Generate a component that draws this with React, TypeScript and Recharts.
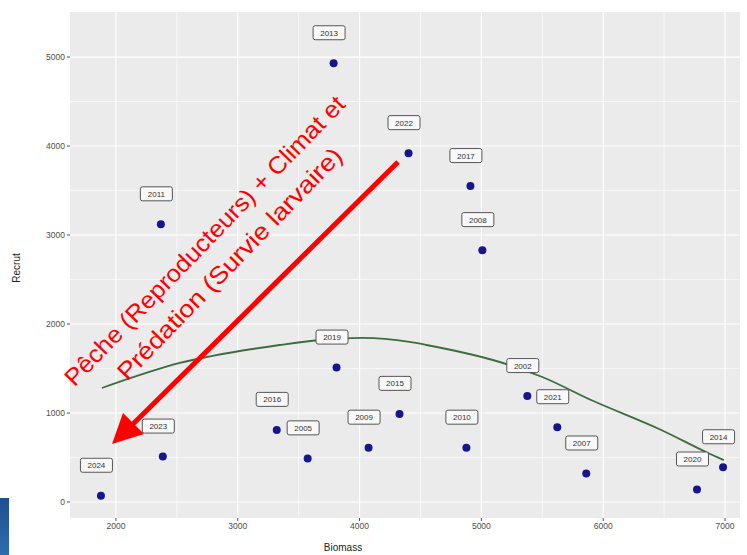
import React from "react";
import {
  ComposedChart,
  Scatter,
  Line,
  XAxis,
  YAxis,
  ReferenceLine,
  LabelList,
} from "recharts";

// Stock-recruitment observations: year, spawning biomass, recruitment
const years = [2024, 2023, 2011, 2013, 2022, 2017, 2008, 2019, 2016, 2005, 2009, 2015, 2010, 2002, 2021, 2007, 2020, 2014];
const biomass = [1877, 2385, 2369, 3787, 4402, 4910, 5008, 3811, 3320, 3574, 4074, 4328, 4877, 5377, 5623, 5861, 6770, 6984];
const recruits = [70, 510, 3120, 4930, 3920, 3550, 2830, 1510, 810, 490, 610, 990, 610, 1190, 840, 320, 140, 390];

// Fitted stock-recruitment curve
const curveBiomass = [1885, 2525, 3344, 3672, 4025, 4410, 4549, 5230, 5500, 5910, 6459, 6869, 6990];
const curveRecruits = [1281, 1562, 1764, 1820, 1843, 1798, 1764, 1539, 1404, 1140, 820, 545, 470];

const xTicks = [2000, 3000, 4000, 5000, 6000, 7000];
const yTicks = [0, 1000, 2000, 3000, 4000, 5000];
const xMinor = [2500, 3500, 4500, 5500, 6500];
const yMinor = [500, 1500, 2500, 3500, 4500];

const points = years.map((year, i) => ({ year, b: biomass[i], r: recruits[i] }));
const curve = curveBiomass.map((b, i) => ({ b, r: curveRecruits[i] }));

const W = 747;
const H = 555;

const axisTick = { fontSize: 8.5, fill: "#4d4d4d", fontFamily: "Liberation Sans, Arial, sans-serif" };

const YearTag = (props: any) => {
  const { x, y, value } = props;
  const w = 32;
  const h = 14;
  const cx = x;
  const cy = y - 26;
  return (
    <g>
      <rect x={cx - w / 2} y={cy - h / 2} width={w} height={h} rx={2} fill="#f8f8f8" stroke="#555" strokeWidth={1} />
      <text x={cx} y={cy + 3} textAnchor="middle" fontSize={8} fill="#333" fontFamily="Liberation Sans, Arial, sans-serif">
        {value}
      </text>
    </g>
  );
};

const Dot = (props: any) => {
  const { cx, cy } = props;
  return <circle cx={cx} cy={cy} r={4} fill="#16168a" />;
};

export default function App() {
  return (
    <div style={{ position: "absolute", left: 0, top: 0, width: W, height: H, background: "#fff" }}>
      <ComposedChart
        width={W}
        height={H}
        margin={{ top: 12, right: 7, bottom: 7, left: 30 }}
        style={{ position: "absolute", left: 0, top: 0 }}
      >
        <XAxis
          type="number"
          dataKey="b"
          domain={[1623, 7123]}
          ticks={xTicks}
          allowDataOverflow
          height={30}
          tick={axisTick}
          tickLine={{ stroke: "#4d4d4d" }}
          tickSize={3}
          axisLine={false}
        />
        <YAxis
          type="number"
          dataKey="r"
          domain={[-180, 5506]}
          ticks={yTicks}
          allowDataOverflow
          width={40}
          tick={axisTick}
          tickLine={{ stroke: "#4d4d4d" }}
          tickSize={3}
          axisLine={false}
        />
        {/* panel background */}
        <ReferenceLine
          segment={[{ x: 1623, y: 2663 }, { x: 7123, y: 2663 }]}
          stroke="#ebebeb"
          strokeWidth={506}
          ifOverflow="visible"
        />
        {xMinor.map((v) => (
          <ReferenceLine key={"xm" + v} x={v} stroke="#fff" strokeWidth={0.6} />
        ))}
        {yMinor.map((v) => (
          <ReferenceLine key={"ym" + v} y={v} stroke="#fff" strokeWidth={0.6} />
        ))}
        {xTicks.map((v) => (
          <ReferenceLine key={"x" + v} x={v} stroke="#fff" strokeWidth={1.2} />
        ))}
        {yTicks.map((v) => (
          <ReferenceLine key={"y" + v} y={v} stroke="#fff" strokeWidth={1.2} />
        ))}
        <Line
          data={curve}
          dataKey="r"
          type="monotone"
          stroke="#3f6a3f"
          strokeWidth={1.8}
          dot={false}
          isAnimationActive={false}
        />
        <Scatter data={points} dataKey="r" shape={<Dot />} isAnimationActive={false}>
          <LabelList dataKey="year" content={<YearTag />} />
        </Scatter>
      </ComposedChart>

      <svg width={W} height={H} style={{ position: "absolute", left: 0, top: 0, pointerEvents: "none" }}>
        <text
          x={20}
          y={268}
          transform="rotate(-90 20 268)"
          textAnchor="middle"
          fontSize={10}
          fill="#222"
          fontFamily="Liberation Sans, Arial, sans-serif"
        >
          Recrut
        </text>
        <text x={343} y={551} textAnchor="middle" fontSize={10} fill="#222" fontFamily="Liberation Sans, Arial, sans-serif">
          Biomass
        </text>

        {/* driver annotation */}
        <line x1={398} y1={162} x2={133} y2={424} stroke="#ff0000" strokeWidth={5} />
        <polygon points="112,444 123,413 144,434" fill="#ff0000" />
        <g fontFamily="Liberation Sans, Arial, sans-serif" fontSize={24} fill="#ff0000">
          <text
            x={206}
            y={242}
            textAnchor="middle"
            dominantBaseline="middle"
            textLength={392}
            lengthAdjust="spacingAndGlyphs"
            transform="rotate(-46 206 242)"
          >
            Pêche (Reproducteurs) + Climat et
          </text>
          <text
            x={231}
            y={265}
            textAnchor="middle"
            dominantBaseline="middle"
            textLength={312}
            lengthAdjust="spacingAndGlyphs"
            transform="rotate(-46 231 265)"
          >
            Prédation (Survie larvaire)
          </text>
        </g>
      </svg>
      <div style={{ position: "absolute", left: 0, top: 498, width: 9, height: 57, background: "linear-gradient(#1f4f8f, #2d6db0)" }} />
    </div>
  );
}
